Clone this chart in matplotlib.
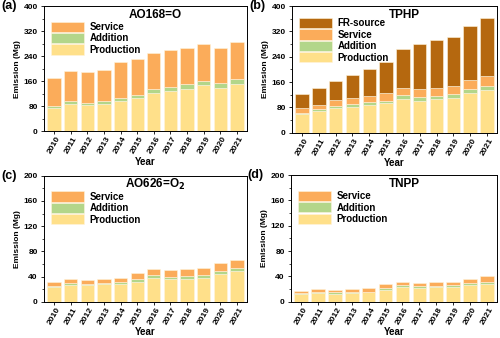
import numpy as np
import matplotlib.pyplot as plt

years = [str(y) for y in range(2010, 2022)]

# AO168=O (Mg)
ao168_prod = [74, 87, 84, 86, 98, 105, 121, 127, 136, 146, 137, 152]
ao168_add = [8, 8, 6, 9, 9, 12, 14, 14, 14, 15, 16, 15]
ao168_serv = [88, 96, 100, 102, 113, 115, 115, 118, 116, 118, 113, 118]

# TPHP (Mg)
tphp_prod = [58, 69, 79, 82, 89, 94, 107, 102, 107, 111, 125, 135]
tphp_add = [5, 6, 7, 10, 8, 7, 11, 12, 10, 10, 13, 14]
tphp_serv = [15, 14, 18, 18, 20, 24, 25, 23, 25, 27, 29, 31]
tphp_fr = [44, 52, 61, 71, 84, 98, 120, 143, 151, 155, 170, 183]

# AO626=O2 (Mg)
ao626_prod = [23, 27, 26, 28, 28, 32, 38, 36, 37, 38, 44, 49]
ao626_add = [2, 3, 3, 2, 3, 4, 4, 4, 4, 4, 5, 5]
ao626_serv = [6, 7, 5, 7, 7, 9, 10, 10, 11, 12, 12, 13]

# TNPP (Mg)
tnpp_prod = [12, 14, 13, 14, 15, 19, 23, 22, 23, 23, 27, 28]
tnpp_add = [2, 2, 2, 1, 1, 3, 3, 3, 2, 3, 2, 4]
tnpp_serv = [3, 4, 4, 5, 6, 6, 6, 5, 7, 6, 7, 8]

c_prod = '#FFE08A'
c_add = '#B3D68A'
c_serv = '#FBAC5A'
c_fr = '#B5680F'

plt.rcParams['font.family'] = ['Liberation Sans', 'DejaVu Sans']
plt.rcParams['font.weight'] = 'bold'


def stacked(ax, layers, ymax, title, tag, leg_top=0.93):
    x = np.arange(len(years))
    bottom = np.zeros(len(years))
    handles = []
    for vals, col, lab in layers:
        b = ax.bar(x, vals, 0.8, bottom=bottom, color=col, edgecolor='#FFF4DC',
                   linewidth=0.4, label=lab)
        bottom = bottom + np.array(vals)
        handles.append(b)
    ax.set_xlim(-0.6, len(years) - 0.4)
    ax.set_ylim(0, ymax)
    ax.set_yticks(np.linspace(0, ymax, 6))
    ax.set_yticks(np.linspace(0, ymax, 11), minor=True)
    ax.set_xticks(x)
    ax.set_xticklabels(years, rotation=60, fontsize=6, fontweight='bold')
    ax.tick_params(axis='y', labelsize=6, length=2.5, width=0.6, pad=2)
    ax.tick_params(axis='y', which='minor', length=1.5, width=0.5)
    ax.tick_params(axis='x', length=2, width=0.6, pad=1)
    for lab in ax.get_yticklabels():
        lab.set_fontweight('bold')
    for sp in ax.spines.values():
        sp.set_linewidth(0.7)
    ax.set_ylabel('Emission (Mg)', fontsize=6, fontweight='bold', labelpad=2)
    ax.set_xlabel('Year', fontsize=7, fontweight='bold', labelpad=1)
    ax.text(0.55, 0.93, title, transform=ax.transAxes, ha='center', va='center',
            fontsize=8.5, fontweight='bold')
    ax.text(-0.21, 1.0, tag, transform=ax.transAxes, ha='left', va='center',
            fontsize=9, fontweight='bold')
    leg = ax.legend(handles[::-1], [h.get_label() for h in handles[::-1]],
                    loc='upper left', frameon=False, fontsize=7,
                    handlelength=3.4, handleheight=1.25, labelspacing=0.1,
                    handletextpad=0.6, borderaxespad=0.3,
                    bbox_to_anchor=(0.0, leg_top))
    for t in leg.get_texts():
        t.set_fontweight('bold')


fig = plt.figure(figsize=(5, 3.38), dpi=100)
ax_a = fig.add_axes([0.088, 0.612, 0.406, 0.37])
ax_b = fig.add_axes([0.584, 0.607, 0.41, 0.375])
ax_c = fig.add_axes([0.088, 0.107, 0.406, 0.373])
ax_d = fig.add_axes([0.582, 0.107, 0.412, 0.375])

stacked(ax_a, [(ao168_prod, c_prod, 'Production'),
               (ao168_add, c_add, 'Addition'),
               (ao168_serv, c_serv, 'Service')], 400, 'AO168=O', '(a)')
stacked(ax_b, [(tphp_prod, c_prod, 'Production'),
               (tphp_add, c_add, 'Addition'),
               (tphp_serv, c_serv, 'Service'),
               (tphp_fr, c_fr, 'FR-source')], 400, 'TPHP', '(b)', leg_top=0.96)
stacked(ax_c, [(ao626_prod, c_prod, 'Production'),
               (ao626_add, c_add, 'Addition'),
               (ao626_serv, c_serv, 'Service')], 200, 'AO626=O$_2$', '(c)')
stacked(ax_d, [(tnpp_prod, c_prod, 'Production'),
               (tnpp_add, c_add, 'Addition'),
               (tnpp_serv, c_serv, 'Service')], 200, 'TNPP', '(d)')

fig.savefig('out.png', dpi=100)
